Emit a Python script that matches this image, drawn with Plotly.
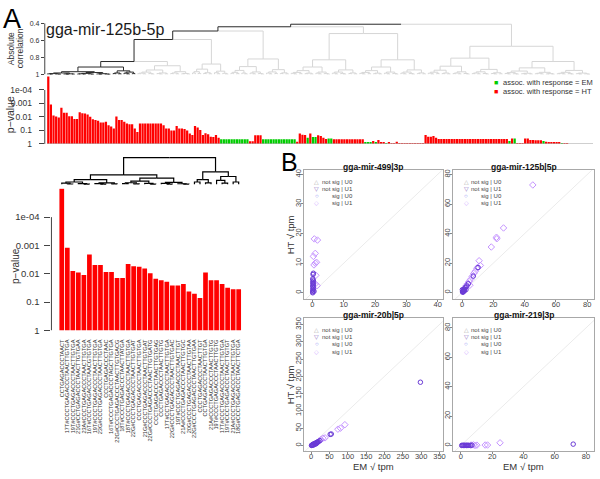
import math
import plotly.graph_objects as go

# ---------------------------------------------------------------- data
# p-values of the 33 highlighted isomiRs (first cluster, lower-left panel)
cluster_p = [1.0e-5, 0.0012, 0.0079, 0.0091, 0.011, 0.0021, 0.0049, 0.0049, 0.0087, 0.0087,
             0.014, 0.014, 0.0045, 0.0054, 0.0056, 0.0065, 0.0095, 0.015, 0.017, 0.019,
             0.026, 0.026, 0.023, 0.042, 0.051, 0.072, 0.0091, 0.017, 0.017, 0.023,
             0.031, 0.035, 0.035]
cluster_seq = [
    "CCTGAGACCCTAACT", "17T#CCCTGAGACCCTAACTTGTGA", "19T#CCCTGAGACCCTAACTTGTGA",
    "21G#CCTGAGACCCTAACTTGTGAA", "23A#CCCTGAGACCCTAACTTGTGA", "16T#CCCTGAGACCCTAACGTGTGA",
    "19T#CCCTGAGACCCTAACTTGTGA", "23G#CCCTGAGACCCTAACTTGTGA", "CCCTGAGACCCTAAC",
    "16T#CCCTGAGACCCTAGCTTGTGA", "22G#CCCTGAGACCCTAACTTGTGACG", "18T#CCCTGAGACCCTAACTTATGA",
    "18T#CCCTGAGACCCTAACTTGTGA", "22G#CCCTGAGACCCTAACTTGTGAT", "CCCTGAGACCCTAACTTGTGA",
    "21G#CCCTGAGACCCTAACTTGTGAT", "22G#CCCTGAGACCCTAACTTGTGATG", "CCCTGAGACCCTAACTTGTGAG",
    "CCCTGAGACCCTAACTTGTG", "17T#CCTGAGACCCTAACTTGTGA", "22G#CCCTGAGACCCTAACTTGTGAC",
    "19T#CCCTGAGACCCTAACTTGT", "21A#CCCTGAGACCCTAACTTGTGC", "20G#CCCTGAGACCCTAACTTGTAA",
    "22G#CCCTGAGACCCTAACTTGTGAA", "CCCTGAGACCCTAACTTGT", "CCTGAGACCCTAACTTGTGA",
    "21A#CCCTGAGACCCTAACTTGTG", "19T#CCCTGAGACCCTAACTTGTG", "17T#CCCTGAGACCCTAACTTGTGA",
    "19T#CCCTGAGACCCTAACTTGTGT", "21A#CCCTGAGACCCTAACTTGTGA", "18G#CCCTGAGACCCTAACTTCTGA"]

# remaining bars of the full ordering: (adjacent bars, association, p-value)
other_runs = [
    (1, "HT", 0.071), (1, "HT", 0.13), (9, "HT", 0.031), (1, "HT", 0.041), (2, "HT", 0.071),
    (2, "HT", 0.10), (1, "HT", 0.048), (2, "HT", 0.071), (1, "HT", 0.079), (1, "HT", 0.10),
    (1, "HT", 0.17), (1, "HT", 0.22), (1, "HT", 0.048), (1, "HT", 0.060), (1, "HT", 0.095),
    (1, "HT", 0.22), (1, "HT", 0.16), (1, "HT", 0.19), (1, "HT", 0.29), (1, "HT", 0.31),
    (1, "HT", 0.22), (1, "HT", 0.35),
    (11, "EM", 0.46), (2, "HT", 0.63), (3, "HT", 0.23), (13, "EM", 0.46),
    (1, "HT", 0.68), (1, "HT", 0.17), (1, "HT", 0.21), (1, "HT", 0.22), (1, "EM", 0.35),
    (1, "HT", 0.17), (2, "EM", 0.31), (1, "HT", 0.23), (1, "HT", 0.26), (1, "HT", 0.35),
    (1, "HT", 0.43), (2, "EM", 0.39), (12, "HT", 0.46), (3, "EM", 0.71), (1, "HT", 0.60),
    (1, "EM", 0.79), (1, "HT", 0.51), (2, "HT", 0.76), (1, "EM", 0.89), (1, "HT", 0.71),
    (1, "HT", 0.85), (1, "HT", 0.89), (1, "HT", 0.68), (1, "HT", 0.93), (1, "HT", 0.91),
    (1, "HT", 0.93), (4, "HT", 0.89), (3, "HT", 0.98),
    (1, "HT", 0.22), (2, "HT", 0.29), (1, "HT", 0.26), (1, "HT", 0.35), (27, "HT", 0.43),
    (1, "EM", 0.60), (1, "HT", 0.39), (1, "EM", 0.39), (3, "HT", 0.99), (2, "HT", 0.39),
    (2, "HT", 0.51), (3, "HT", 0.54), (1, "EM", 0.60), (1, "HT", 0.68), (5, "HT", 0.79),
    (1, "EM", 0.89), (2, "HT", 0.89)]

# dendrogram: ("n", merge height (abs. correlation), on highlighted path, left, right)
#             ("g", number of leaves, top merge height)
cluster_tree = ("n", 0.915, True,
                ("n", 0.97, True, ("g", 11, 0.985), ("g", 13, 0.98)),
                ("n", 0.96, True, ("g", 4, 0.985), ("g", 5, 0.975)))
top_tree = ("n", 0.41, False,
            ("n", 0.44, True,
             ("n", 0.49, True,
              ("n", 0.59, True,
               ("n", 0.85, True, "CLUSTER", ("g", 20, 0.90)),
               ("g", 14, 0.88)),
              ("g", 22, 0.82)),
             ("n", 0.52, False, ("g", 25, 0.83), ("g", 25, 0.83))),
            ("n", 0.67, False, ("g", 28, 0.81), ("g", 32, 0.85)))

p_ticks = [1, 0.1, 0.01, 0.001, 1e-4]
p_tick_text = ["1", "0.1", "0.01", "0.001", "1e-04"]
corr_ticks = [0.4, 0.6, 0.8, 1.0]
corr_tick_text = ["0.4", "0.6", "0.8", "1"]

# panel B: sqrt(tpm) in EM (x) and HT (y)
mir499_u0_x = [0.1, 0.2, 0.1, 0.3, 0.2, 0.1, 0.3, 0.2, 0.1, 0.3, 0.2, 0.1, 0.2, 0.3, 0.1, 0.5]
mir499_u0_y = [0.3, 0.7, 1.1, 1.5, 1.9, 2.3, 2.7, 3.1, 3.5, 3.9, 4.3, 4.7, 6.2, 6.6, 0.0, 0.5]
mir499_u1_x = [0.6, 1.6, 0.9, 0.3, 1.3, 0.9, 0.5, 1.1, 0.9, 1.5]
mir499_u1_y = [18.2, 17.8, 13.3, 12.3, 10.3, 10.0, 9.4, 5.9, 3.0, 2.4]

mir125b_u0_x = [7.2, 10.2, 4.0, 3.0, 2.0, 1.5, 1.0, 1.0, 0.5, 0.3, 0.8, 1.5, 0.2, 2.5, 0.6]
mir125b_u0_y = [11.2, 17.0, 6.0, 4.5, 3.5, 2.5, 2.0, 1.5, 1.0, 0.5, 0.8, 1.2, 2.0, 2.0, 0.3]
mir125b_u1_x = [45.2, 26.5, 22.0, 22.2, 18.7, 10.9, 11.7, 10.0, 9.5, 8.5, 7.5, 6.5, 5.5, 4.5,
                3.5, 5.0, 2.5, 2.0]
mir125b_u1_y = [72.9, 43.8, 37.5, 36.5, 30.9, 21.6, 18.4, 17.1, 16.5, 14.5, 13.0, 11.0, 9.0, 7.5,
                6.0, 5.0, 4.5, 3.0]

mir20b_u0_x = [298, 52, 55, 20, 17, 15, 13, 11, 9, 7, 5, 4, 3, 2, 1, 6, 10, 14, 18, 24]
mir20b_u0_y = [183, 32, 33, 11, 9, 8, 7, 6, 5, 4, 3, 2, 1, 0.5, 0, 1, 3, 5, 10, 14]
mir20b_u1_x = [92, 80, 73, 38, 32, 27, 22]
mir20b_u1_y = [60, 50, 47, 22, 21, 17, 13]

mir219_u0_x = [71.8, 0.5, 1.0, 1.5, 2.0, 2.5, 3.0, 3.5, 4.0, 4.5, 5.0, 6.0, 7.0]
mir219_u0_y = [0.9, 0.0, 0.1, 0.0, 0.1, 0.0, 0.1, 0.0, 0.1, 0.0, 0.1, 0.0, 0.2]
mir219_u1_x = [25.0, 17.0, 15.5, 10.2, 8.0, 9.0, 6.5]
mir219_u1_y = [1.8, 0.3, 0.3, 0.2, 0.4, 0.0, 0.3]

ticks_499 = [0, 10, 20, 30, 40]
ticks_125b = [0, 20, 40, 60, 80]
ticks_20b = [0, 50, 100, 150, 200, 250, 300, 350]
ticks_219 = [0, 20, 40, 60, 80]

legend_labels = ["not sig | U0", "not sig | U1", "sig | U0", "sig | U1"]

# ---------------------------------------------------------------- helpers
W, H = 600, 479
FONT = "Liberation Sans, Arial, Helvetica, sans-serif"


def fx(px):
    return px / W


def fy(py):
    return 1 - py / H


def nlog(p):
    return -math.log10(p)


# expand bars
top_p = list(cluster_p)
top_assoc = ["HT"] * len(cluster_p)
for n, a, p in other_runs:
    top_p += [p] * n
    top_assoc += [a] * n


def comb(n, h, black):
    if n == 1:
        return {"h": 1.0, "black": black, "kids": []}
    a = max(1, (n * 3) // 5)
    ha = h + (1 - h) * 0.5
    hb = h + (1 - h) * 0.7
    return {"h": h, "black": black, "kids": [comb(a, ha, black), comb(n - a, hb, black)]}


def expand(spec, inside):
    if spec == "CLUSTER":
        return expand(cluster_tree, True)
    if spec[0] == "n":
        _, h, flag, a, b = spec
        return {"h": h, "black": flag or inside,
                "kids": [expand(a, inside), expand(b, inside)]}
    _, n, h = spec
    return comb(n, h, inside)


def place(node, counter):
    if not node["kids"]:
        node["x"] = counter[0]
        counter[0] += 1
        return
    for k in node["kids"]:
        place(k, counter)
    node["x"] = (node["kids"][0]["x"] + node["kids"][-1]["x"]) / 2


def segments(node, out):
    for k in node["kids"]:
        key = "black" if k["black"] else "gray"
        xs, ys = out[key]
        xs += [node["x"], k["x"], k["x"], None]
        ys += [node["h"], node["h"], k["h"], None]
        segments(k, out)


fig = go.Figure()

# ---- top dendrogram
tree = expand(top_tree, False)
place(tree, [0])
seg = {"black": ([], []), "gray": ([], [])}
segments(tree, seg)
fig.add_trace(go.Scatter(x=seg["gray"][0], y=seg["gray"][1], mode="lines",
                         line=dict(color="#d6d6d6", width=1), xaxis="x", yaxis="y",
                         hoverinfo="skip"))
fig.add_trace(go.Scatter(x=seg["black"][0], y=seg["black"][1], mode="lines",
                         line=dict(color="#2a2a2a", width=1), xaxis="x", yaxis="y",
                         hoverinfo="skip"))

# ---- top bars
colors = {"EM": "#00cd00", "HT": "#ff0000"}
fig.add_trace(go.Bar(x=list(range(len(top_p))), y=[nlog(p) for p in top_p],
                     marker=dict(color=[colors[a] for a in top_assoc], line=dict(width=0)),
                     xaxis="x2", yaxis="y2", hoverinfo="skip"))

# ---- lower dendrogram + bars
ctree = expand(cluster_tree, True)
place(ctree, [0])
cseg = {"black": ([], []), "gray": ([], [])}
segments(ctree, cseg)
fig.add_trace(go.Scatter(x=cseg["black"][0], y=cseg["black"][1], mode="lines",
                         line=dict(color="#000000", width=1.2), xaxis="x4", yaxis="y4",
                         hoverinfo="skip"))
fig.add_trace(go.Bar(x=list(range(len(cluster_p))), y=[nlog(p) for p in cluster_p],
                     marker=dict(color="#ff0000", line=dict(width=0)),
                     xaxis="x3", yaxis="y3", hoverinfo="skip"))

# ---- scatter panels
panels = [
    dict(title="gga-mir-499|3p", box=(305.5, 445, 170.7, 301.7), xr=(-2.7, 41.6),
         yr=(-2.2, 41.4), ticks=ticks_499, u0=(mir499_u0_x, mir499_u0_y),
         u1=(mir499_u1_x, mir499_u1_y), ylab=True, xlab=False),
    dict(title="gga-mir-125b|5p", box=(455.7, 597, 170.7, 301.7), xr=(-5.5, 84.3),
         yr=(-4.5, 82.9), ticks=ticks_125b, u0=(mir125b_u0_x, mir125b_u0_y),
         u1=(mir125b_u1_x, mir125b_u1_y), ylab=False, xlab=False),
    dict(title="gga-mir-20b|5p", box=(305.5, 445, 321, 456), xr=(-19.5, 359),
         yr=(-17.1, 368), ticks=ticks_20b, u0=(mir20b_u0_x, mir20b_u0_y),
         u1=(mir20b_u1_x, mir20b_u1_y), ylab=True, xlab=True),
    dict(title="gga-mir-219|3p", box=(455.7, 597, 321, 456), xr=(-4.8, 85.1), yr=(-4.0, 86.5),
         ticks=ticks_219, u0=(mir219_u0_x, mir219_u0_y), u1=(mir219_u1_x, mir219_u1_y),
         ylab=False, xlab=True),
]

annotations = []
shapes = []


def ann(x, y, text, size, color="#222", xanchor="center", yanchor="middle", angle=0,
        bold=False):
    annotations.append(dict(x=fx(x), y=fy(y), xref="paper", yref="paper", text=text,
                            showarrow=False, xanchor=xanchor, yanchor=yanchor,
                            textangle=angle, borderpad=0,
                            font=dict(size=size, color=color, family=FONT,
                                      weight="bold" if bold else "normal")))


layout_axes = {}
axis_common = dict(showgrid=False, zeroline=False, fixedrange=True)

sym_colors = ["#a8a8a8", "#8a6bc0", "#6f6ff0", "#c99cff"]
sym_chars = ["\u25b3", "\u25bd", "\u25cb", "\u25c7"]

for i, pn in enumerate(panels):
    k = i + 5
    x0, x1, y0, y1 = pn["box"]
    lo = min(pn["xr"][0], pn["yr"][0])
    hi = max(pn["xr"][1], pn["yr"][1])
    fig.add_trace(go.Scatter(x=[lo, hi], y=[lo, hi], mode="lines",
                             line=dict(color="#ebebeb", width=1),
                             xaxis=f"x{k}", yaxis=f"y{k}", hoverinfo="skip"))
    fig.add_trace(go.Scatter(x=pn["u1"][0], y=pn["u1"][1], mode="markers",
                             marker=dict(symbol="diamond-open", size=5, color="#c594ff",
                                         line=dict(width=1)),
                             xaxis=f"x{k}", yaxis=f"y{k}", hoverinfo="skip"))
    fig.add_trace(go.Scatter(x=pn["u0"][0], y=pn["u0"][1], mode="markers",
                             marker=dict(symbol="circle-open", size=4.5, color="#6a3ad6",
                                         line=dict(width=1)),
                             xaxis=f"x{k}", yaxis=f"y{k}", hoverinfo="skip"))
    layout_axes[f"xaxis{k}"] = dict(
        domain=[fx(x0), fx(x1)], range=list(pn["xr"]), anchor=f"y{k}",
        tickvals=pn["ticks"], ticks="outside", ticklen=2, tickcolor="#888",
        ticklabelstandoff=-4,
        tickfont=dict(size=7.5, color="#444", family=FONT),
        showline=True, mirror=True, linecolor="#a8a8a8", linewidth=1, **axis_common)
    layout_axes[f"yaxis{k}"] = dict(
        domain=[fy(y1), fy(y0)], range=list(pn["yr"]), anchor=f"x{k}",
        tickvals=pn["ticks"], ticks="outside", ticklen=2, tickcolor="#888", tickangle=-90,
        ticklabelstandoff=-3,
        tickfont=dict(size=7.5, color="#444", family=FONT),
        showline=True, mirror=True, linecolor="#a8a8a8", linewidth=1, **axis_common)
    ann((x0 + x1) / 2, y0 - 3.5, pn["title"], 8.5, color="#111", bold=True)
    if pn["ylab"]:
        ann(292, (y0 + y1) / 2, "HT \u221a tpm", 9.5, color="#333", angle=-90)
    if pn["xlab"]:
        ann((x0 + x1) / 2, 471, "EM \u221a tpm", 9.5, color="#333")
    for r in range(4):
        yy = y0 + 11.5 + r * 7.4
        ann(x0 + 13, yy, sym_chars[r], 6, color=sym_colors[r])
        ann(x0 + 50, yy, legend_labels[r], 6, color="#444", xanchor="right")

# ---- axes for part A
layout_axes["xaxis"] = dict(domain=[fx(45), fx(596)], range=[-0.91, 199.1], visible=False,
                            anchor="y", **axis_common)
layout_axes["yaxis"] = dict(domain=[fy(73.73), fy(19.98)], range=[1.005, 0.38], anchor="x",
                            tickvals=corr_ticks, ticktext=corr_tick_text, ticks="outside",
                            ticklen=3, tickcolor="#444",
                            tickfont=dict(size=7, color="#333", family=FONT),
                            showline=False, **axis_common)
layout_axes["xaxis2"] = dict(domain=[fx(45), fx(596)], range=[-1.34, 207.9], visible=False,
                             anchor="y2", **axis_common)
layout_axes["yaxis2"] = dict(domain=[fy(144), fy(75)], range=[0, 5.046], anchor="x2",
                             tickvals=[nlog(p) for p in p_ticks], ticktext=p_tick_text,
                             ticks="outside", ticklen=5, tickcolor="#444",
                             ticklabelstandoff=5,
                             tickfont=dict(size=8.5, color="#333", family=FONT),
                             showline=False, **axis_common)
layout_axes["xaxis3"] = dict(domain=[fx(51.7), fx(285)], range=[-1.868, 40.12], anchor="y3",
                             tickvals=list(range(len(cluster_seq))), ticktext=cluster_seq,
                             tickangle=-90, ticks="", showline=False, ticklabelstandoff=7,
                             tickfont=dict(size=5.6, color="#333", family=FONT),
                             **axis_common)
layout_axes["yaxis3"] = dict(domain=[fy(333.3), fy(189)], range=[0, 5.02], anchor="x3",
                             tickvals=[nlog(p) for p in p_ticks], ticktext=p_tick_text,
                             ticks="outside", ticklen=6, tickcolor="#444",
                             ticklabelstandoff=3,
                             tickfont=dict(size=9.5, color="#333", family=FONT),
                             showline=False, **axis_common)
layout_axes["xaxis4"] = dict(domain=[fx(51.7), fx(285)], range=[-1.868, 40.12], visible=False,
                             anchor="y4", **axis_common)
layout_axes["yaxis4"] = dict(domain=[fy(186), fy(155)], range=[1.003, 0.9056], visible=False,
                             anchor="x4", **axis_common)

# axis lines spanning only the tick range (R style)
shapes.append(dict(type="line", xref="x domain", yref="y", x0=0, x1=0, y0=0.4, y1=1.0,
                   line=dict(color="#444", width=1)))
shapes.append(dict(type="line", xref="x2 domain", yref="y2", x0=0, x1=0, y0=0, y1=4,
                   line=dict(color="#444", width=1)))
shapes.append(dict(type="line", xref="x3 domain", yref="y3", x0=0, x1=0, y0=0, y1=4,
                   line=dict(color="#444", width=1)))
shapes.append(dict(type="line", xref="x2 domain", yref="y2", x0=0.004, x1=1, y0=0, y1=0,
                   line=dict(color="#b0b0b0", width=1)))

# ---- text of part A
ann(2, 17, "A", 27, color="#000", xanchor="left")
ann(281, 162, "B", 25, color="#000", xanchor="left")
ann(45, 27.5, "gga-mir-125b-5p", 16, color="#1a1a1a", xanchor="left")
ann(11, 47, "Absolute", 8.5, color="#333", angle=-90)
ann(20, 47, "correlation", 8.5, color="#333", angle=-90)
ann(10, 114, "p\u2212value", 10.5, color="#333", angle=-90)
ann(15, 268, "p\u2212value", 10, color="#333", angle=-90)
ann(498.5, 81.7, "\u25a0", 7, color=colors["EM"])
ann(505, 81.7, "assoc. with response = EM", 7.5, color="#333", xanchor="left")
ann(498.5, 90.7, "\u25a0", 7, color=colors["HT"])
ann(505, 90.7, "assoc. with response = HT", 7.5, color="#333", xanchor="left")

fig.update_layout(width=W, height=H, margin=dict(l=0, r=0, t=0, b=0),
                  paper_bgcolor="white", plot_bgcolor="rgba(0,0,0,0)", showlegend=False,
                  bargap=0.15, hovermode=False, font=dict(family=FONT, color="#222"),
                  annotations=annotations, shapes=shapes, **layout_axes)

fig.write_html("out.html", config={"displayModeBar": False},
               post_script="document.body.style.margin='0px';"
                           "document.body.style.overflow='hidden';")
